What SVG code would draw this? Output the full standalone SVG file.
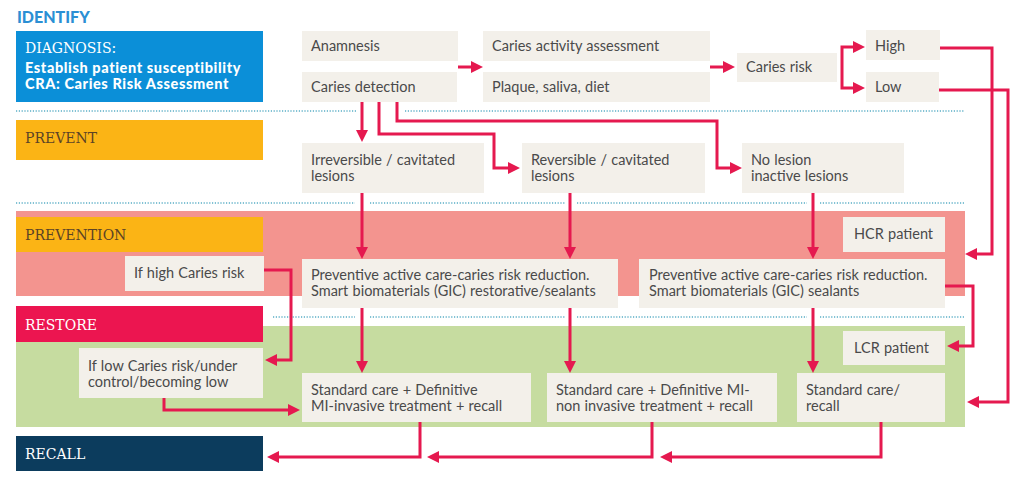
<svg xmlns="http://www.w3.org/2000/svg" width="1024" height="489" viewBox="0 0 1024 489">
<style>
.bg{fill:#ffffff}
.box{fill:#f3f0ea}
.t{font-family:Lato,"Open Sans","Liberation Sans",sans-serif;font-size:14.5px;word-spacing:0.5px;fill:#4a4a4a}
.lab{font-family:"DejaVu Serif","Liberation Serif",serif;font-size:14px}
.wb{font-family:Lato,"Open Sans","Liberation Sans",sans-serif;font-size:14.5px;font-weight:900;letter-spacing:0.6px;fill:#ffffff}
.dot{stroke:#5aaec6;stroke-width:1.3;stroke-dasharray:1.2 1.6;fill:none}
.con{stroke:#e5194f;stroke-width:3;fill:none;marker-end:url(#ah)}
</style>
<defs>
<marker id="ah" viewBox="0 0 12 12" refX="8" refY="6" markerWidth="12" markerHeight="12" markerUnits="userSpaceOnUse" orient="auto">
<path d="M0,0 L12,6 L0,12 z" fill="#e5194f"/>
</marker>
</defs>
<rect class="bg" x="0" y="0" width="1024" height="489"/>

<g id="bands">
<rect x="16" y="211" width="949" height="85" fill="#f3948f"/>
<rect x="16" y="326" width="949" height="101" fill="#c6dca0"/>
</g>

<g id="dividers">
<path class="dot" d="M16,111 H357 M405,111 H965"/>
<path class="dot" d="M16,203 H355 M370,203 H565 M577,203 H807 M820,203 H965"/>
<path class="dot" d="M273,317 H355 M370,317 H565 M577,317 H807 M820,317 H965"/>
</g>

<text id="identify" x="17" y="23" font-family="Lato,'Open Sans',sans-serif" font-size="16" font-weight="900" fill="#2b8fd4">IDENTIFY</text>

<g id="diagnosis">
<rect x="16" y="31" width="247" height="71" fill="#0b8fd8"/>
<text class="lab" x="25" y="53" fill="#ffffff">DIAGNOSIS:</text>
<text class="wb" x="25" y="73">Establish patient susceptibility</text>
<text class="wb" x="25" y="89">CRA: Caries Risk Assessment</text>
</g>
<g id="prevent">
<rect x="16" y="120" width="247" height="40" fill="#fbb415"/>
<text class="lab" x="25" y="143" fill="#5c4326">PREVENT</text>
</g>
<g id="prevention">
<rect x="16" y="217" width="247" height="35" fill="#fbb415"/>
<text class="lab" x="25" y="240" fill="#5c4326">PREVENTION</text>
</g>
<g id="restore">
<rect x="16" y="306" width="247" height="36" fill="#ec1550"/>
<text class="lab" x="25" y="330" fill="#ffffff">RESTORE</text>
</g>
<g id="recall">
<rect x="16" y="436" width="247" height="35" fill="#0c3c5d"/>
<text class="lab" x="25" y="459" fill="#ffffff">RECALL</text>
</g>

<g id="anamnesis"><rect class="box" x="302" y="31" width="156" height="30"/><text class="t" x="311" y="51">Anamnesis</text></g>
<g id="caries-detection"><rect class="box" x="302" y="72" width="155" height="30"/><text class="t" x="311" y="92">Caries detection</text></g>
<g id="caries-activity"><rect class="box" x="483" y="31" width="227" height="30"/><text class="t" x="492" y="51">Caries activity assessment</text></g>
<g id="plaque"><rect class="box" x="483" y="72" width="227" height="30"/><text class="t" x="492" y="92">Plaque, saliva, diet</text></g>
<g id="caries-risk"><rect class="box" x="737" y="53" width="100" height="29"/><text class="t" x="746" y="72">Caries risk</text></g>
<g id="high"><rect class="box" x="866" y="30" width="74" height="30"/><text class="t" x="875" y="51">High</text></g>
<g id="low"><rect class="box" x="866" y="72" width="73" height="30"/><text class="t" x="875" y="92">Low</text></g>

<g id="irreversible"><rect class="box" x="302" y="143" width="182" height="50"/><text class="t" x="311" y="165">Irreversible / cavitated</text><text class="t" x="311" y="181">lesions</text></g>
<g id="reversible"><rect class="box" x="522" y="143" width="183" height="50"/><text class="t" x="531" y="165">Reversible / cavitated</text><text class="t" x="531" y="181">lesions</text></g>
<g id="no-lesion"><rect class="box" x="742" y="143" width="162" height="50"/><text class="t" x="751" y="165">No lesion</text><text class="t" x="751" y="181">inactive lesions</text></g>

<g id="hcr"><rect class="box" x="843" y="217" width="102" height="35"/><text class="t" x="854" y="239">HCR patient</text></g>
<g id="if-high"><rect class="box" x="125" y="256" width="139" height="35"/><text class="t" x="134" y="278">If high Caries risk</text></g>
<g id="preventive-1"><rect class="box" x="302" y="259" width="316" height="49"/><text class="t" x="311" y="280">Preventive active care-caries risk reduction.</text><text class="t" x="311" y="296">Smart biomaterials (GIC) restorative/sealants</text></g>
<g id="preventive-2"><rect class="box" x="639" y="259" width="306" height="49"/><text class="t" x="649" y="280">Preventive active care-caries risk reduction.</text><text class="t" x="649" y="296">Smart biomaterials (GIC) sealants</text></g>

<g id="lcr"><rect class="box" x="843" y="331" width="102" height="34"/><text class="t" x="854" y="353">LCR patient</text></g>
<g id="if-low"><rect class="box" x="79" y="348" width="184" height="50"/><text class="t" x="88" y="371">If low Caries risk/under</text><text class="t" x="88" y="387">control/becoming low</text></g>
<g id="standard-1"><rect class="box" x="302" y="373" width="229" height="49"/><text class="t" x="311" y="395">Standard care + Definitive</text><text class="t" x="311" y="411">MI-invasive treatment + recall</text></g>
<g id="standard-2"><rect class="box" x="547" y="373" width="230" height="49"/><text class="t" x="556" y="395">Standard care + Definitive MI-</text><text class="t" x="556" y="411">non invasive treatment + recall</text></g>
<g id="standard-3"><rect class="box" x="797" y="373" width="148" height="49"/><text class="t" x="806" y="395">Standard care/</text><text class="t" x="806" y="411">recall</text></g>

<g id="connectors">
<path class="con" d="M458,67 H479"/>
<path class="con" d="M710,67 H731"/>
<path class="con" d="M842,67 V47 H861"/>
<path class="con" d="M842,67 V88 H861"/>
<path class="con" d="M940,48 H992 V254 H969"/>
<path class="con" d="M939,90 H1008 V402 H971"/>
<path class="con" d="M362,102 V138"/>
<path class="con" d="M379,102 V134 H494 V168 H516"/>
<path class="con" d="M397,102 V121 H717 V168 H738"/>
<path class="con" d="M362,193 V255"/>
<path class="con" d="M570,193 V255"/>
<path class="con" d="M813,193 V255"/>
<path class="con" d="M362,308 V369"/>
<path class="con" d="M570,308 V369"/>
<path class="con" d="M813,308 V369"/>
<path class="con" d="M945,286 H973 V346 H951"/>
<path class="con" d="M264,270 H291 V360 H269"/>
<path class="con" d="M164,398 V410 H296"/>
<path class="con" d="M420,422 V457 H271"/>
<path class="con" d="M652,422 V457 H431"/>
<path class="con" d="M881,422 V457 H664"/>
</g>
</svg>
